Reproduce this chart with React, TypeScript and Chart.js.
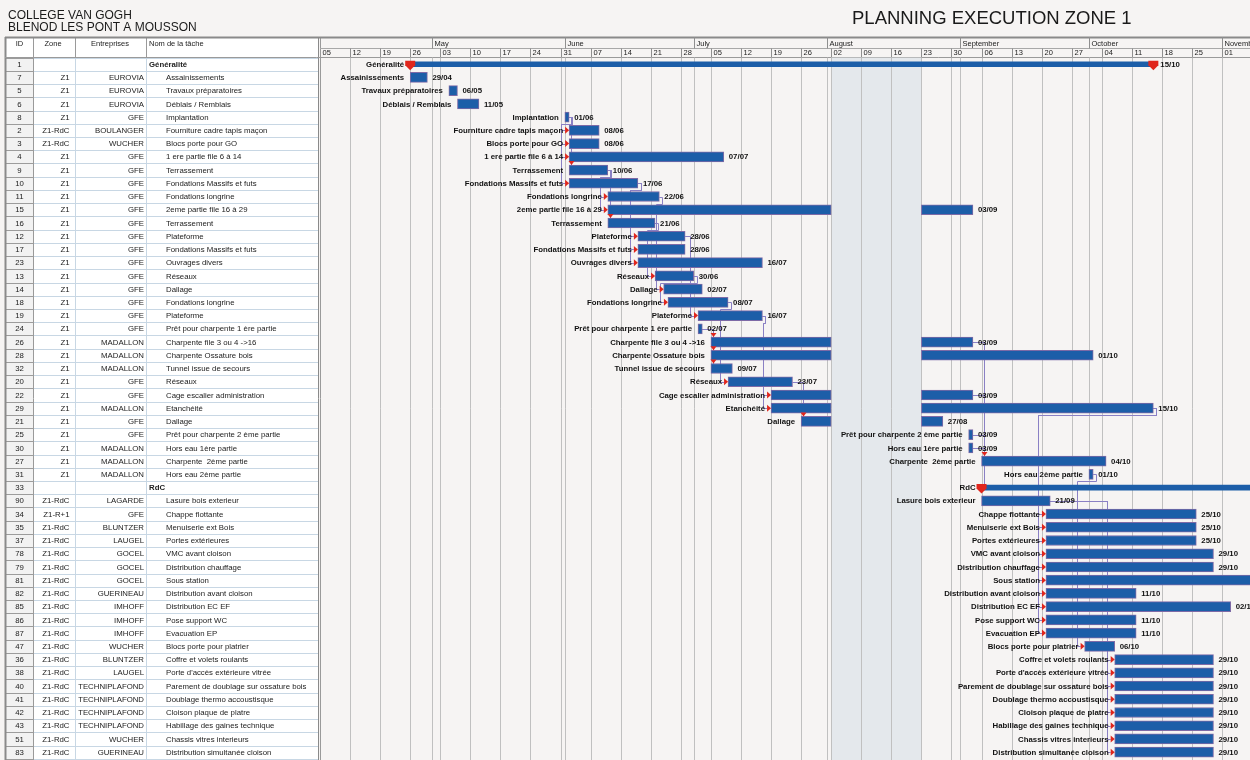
import React, { useEffect, useRef } from 'react';
import { Chart, registerables } from 'chart.js';
Chart.register(...registerables);

// ---------- DATA ----------
const rowIds = ['1','7','5','6','8','2','3','4','9','10','11','15','16','12','17','23','13','14','18','19','24','26','28','32','20','22','29','21','25','30','27','31','33','90','34','35','37','78','79','81','82','85','86','87','47','36','38','40','41','42','43','51','83'];

const zones = ['','Z1','Z1','Z1','Z1','Z1-RdC','Z1-RdC','Z1','Z1','Z1','Z1','Z1','Z1','Z1','Z1','Z1','Z1','Z1','Z1','Z1','Z1','Z1','Z1','Z1','Z1','Z1','Z1','Z1','Z1','Z1','Z1','Z1','','Z1-RdC','Z1-R+1','Z1-RdC','Z1-RdC','Z1-RdC','Z1-RdC','Z1-RdC','Z1-RdC','Z1-RdC','Z1-RdC','Z1-RdC','Z1-RdC','Z1-RdC','Z1-RdC','Z1-RdC','Z1-RdC','Z1-RdC','Z1-RdC','Z1-RdC','Z1-RdC'];

const companies = ['','EUROVIA','EUROVIA','EUROVIA','GFE','BOULANGER','WUCHER','GFE','GFE','GFE','GFE','GFE','GFE','GFE','GFE','GFE','GFE','GFE','GFE','GFE','GFE','MADALLON','MADALLON','MADALLON','GFE','GFE','MADALLON','GFE','GFE','MADALLON','MADALLON','MADALLON','','LAGARDE','GFE','BLUNTZER','LAUGEL','GOCEL','GOCEL','GOCEL','GUERINEAU','IMHOFF','IMHOFF','IMHOFF','WUCHER','BLUNTZER','LAUGEL','TECHNIPLAFOND','TECHNIPLAFOND','TECHNIPLAFOND','TECHNIPLAFOND','WUCHER','GUERINEAU'];

const taskNames = ['Généralité','Assainissements','Travaux préparatoires','Déblais / Remblais','Implantation','Fourniture cadre tapis maçon','Blocs porte pour GO','1 ere partie file 6 à 14','Terrassement','Fondations Massifs et futs','Fondations longrine','2eme partie file 16 à 29','Terrassement','Plateforme','Fondations Massifs et futs','Ouvrages divers','Réseaux','Dallage','Fondations longrine','Plateforme','Prêt pour charpente 1 ère partie','Charpente file 3 ou 4 ->16','Charpente Ossature bois','Tunnel issue de secours','Réseaux','Cage escalier administration','Etanchéité','Dallage','Prêt pour charpente 2 ème partie','Hors eau 1ère partie','Charpente  2ème partie','Hors eau 2ème partie','RdC','Lasure bois exterieur','Chappe flottante','Menuiserie ext Bois','Portes extérieures','VMC avant cloison','Distribution chauffage','Sous station','Distribution avant cloison','Distribution EC EF','Pose support WC','Evacuation EP','Blocs porte pour platrier','Coffre et volets roulants',"Porte d'accès extérieure vitrée",'Parement de doublage sur ossature bois','Doublage thermo accoustisque','Cloison plaque de platre','Habillage des gaines technique','Chassis vitres interieurs','Distribution simultanée cloison'];

const summaryFlags = [true,false,false,false,false,false,false,false,false,false,false,false,false,false,false,false,false,false,false,false,false,false,false,false,false,false,false,false,false,false,false,false,true,false,false,false,false,false,false,false,false,false,false,false,false,false,false,false,false,false,false,false,false];

// days counted from Monday 05 April (day 0); end values are exclusive
const startDays = [21,21,30,32,57,58,58,58,58,58,67,67,67,74,74,74,78,80,81,88,88,91,91,91,95,105,105,112,151,151,154,179,154,154,169,169,169,169,169,169,169,169,169,169,178,185,185,185,185,185,185,185,185];
const endDays =   [194,25,32,37,58,65,65,94,67,74,79,119,78,85,85,103,87,89,95,103,89,119,119,96,110,119,119,119,152,152,183,180,230,170,204,204,204,208,208,230,190,212,190,190,185,208,208,208,208,208,208,208,208];
const resumeDays = [null,null,null,null,null,null,null,null,null,null,null,140,null,null,null,null,null,null,null,null,null,140,140,null,null,140,140,140,null,null,null,null,null,null,null,null,null,null,null,null,null,null,null,null,null,null,null,null,null,null,null,null,null];
const finishDays = [null,null,null,null,null,null,null,null,null,null,null,152,null,null,null,null,null,null,null,null,null,152,180,null,null,152,194,145,null,null,null,null,null,null,null,null,null,null,null,null,null,null,null,null,null,null,null,null,null,null,null,null,null];

const endLabels = ['15/10','29/04','06/05','11/05','01/06','08/06','08/06','07/07','10/06','17/06','22/06','03/09','21/06','28/06','28/06','16/07','30/06','02/07','08/07','16/07','02/07','03/09','01/10','09/07','23/07','03/09','15/10','27/08','03/09','03/09','04/10','01/10','','21/09','25/10','25/10','25/10','29/10','29/10','','11/10','02/11','11/10','11/10','06/10','29/10','29/10','29/10','29/10','29/10','29/10','29/10','29/10'];

// incoming link arrow: 'r' = from left, 'd' = from above
const arrowTypes = ['','','','','','r','r','r','d','r','r','r','d','r','r','r','r','r','r','r','','d','d','d','r','r','r','d','','','d','','','','r','r','r','r','r','r','r','r','r','r','r','r','r','r','r','r','r','r','r'];

const links = [
  ['8','9'],['8','2'],['8','3'],['8','4'],['8','10'],
  ['9','11'],['9','15'],['9','16'],
  ['10','12'],['10','17'],['10','23'],
  ['16','13'],['11','14'],['13','18'],['12','19'],
  ['24','26'],['24','28'],['24','32'],
  ['18','20'],['19','22'],['19','29'],['20','21'],
  ['26','27'],['22','27'],['25','27'],['30','27'],['30','33'],
  ['29','34'],['29','35'],['29','37'],['29','78'],['29','79'],['29','81'],['29','82'],['29','85'],['29','86'],['29','87'],
  ['31','47'],
  ['90','36'],['90','38'],['90','40'],['90','41'],['90','42'],['90','43'],['90','51'],['90','83'],
];

const weekDays = [0,7,14,21,28,35,42,49,56,63,70,77,84,91,98,105,112,119,126,133,140,147,154,161,168,175,182,189,196,203,210];
const weekLabels = ['05','12','19','26','03','10','17','24','31','07','14','21','28','05','12','19','26','02','09','16','23','30','06','13','20','27','04','11','18','25','01'];
const monthStarts = [0,26,57,87,118,149,179,210];
const monthLabels = ['','May','June','July','August','September','October','November'];
const holidayFrom = 119;
const holidayTo = 140;

// ---------- STYLE ----------
const FONT = '"Liberation Sans", Arial, Helvetica, sans-serif';
const BAR = '#1c5ea8';
const BAR_EDGE = '#7d6aa6';
const RED = '#e0261c';
const LINK = '#8a80c4';
const X_MAX = 216.5;

const ganttPlugin = {
  id: 'gantt',
  beforeDraw(chart: any) {
    const { ctx, chartArea: ca, scales } = chart;
    const xs = scales.x, ys = scales.y;
    const W = chart.width, H = chart.height;
    const px = (v: number) => xs.getPixelForValue(v);
    const rowH = (ca.bottom - ca.top) / rowIds.length;
    const yc = (i: number) => ys.getPixelForValue(i);
    ctx.save();
    ctx.fillStyle = '#f6f4f3';
    ctx.fillRect(0, 0, W, H);

    // Titles
    ctx.fillStyle = '#1a1a1a';
    ctx.textBaseline = 'alphabetic';
    ctx.textAlign = 'left';
    ctx.font = `12px ${FONT}`;
    ctx.fillText('COLLEGE VAN GOGH', 8, 18.5);
    ctx.fillText('BLENOD LES PONT A MOUSSON', 8, 31);
    ctx.font = `18.5px ${FONT}`;
    ctx.fillText('PLANNING EXECUTION ZONE 1', 852, 23.5);

    // Table
    const cols = [5, 33, 75, 146.5, 318];
    const headTop = 37;
    ctx.fillStyle = '#ffffff';
    ctx.fillRect(cols[0], headTop, cols[4] - cols[0], H - headTop);
    ctx.fillStyle = '#f2f2f2';
    ctx.fillRect(cols[0], ca.top, cols[1] - cols[0], H - ca.top);

    // row lines
    ctx.lineWidth = 1;
    for (let i = 0; i <= rowIds.length; i++) {
      const y = Math.round(ca.top + i * rowH) + 0.5;
      ctx.strokeStyle = '#c8d7e4';
      ctx.beginPath(); ctx.moveTo(cols[1], y); ctx.lineTo(cols[4], y); ctx.stroke();
      ctx.strokeStyle = '#9c9c9c';
      ctx.beginPath(); ctx.moveTo(cols[0], y); ctx.lineTo(cols[1], y); ctx.stroke();
    }
    // column lines
    const vline = (x: number, y0: number, y1: number, c: string, w = 1) => {
      ctx.strokeStyle = c; ctx.lineWidth = w;
      ctx.beginPath(); ctx.moveTo(x, y0); ctx.lineTo(x, y1); ctx.stroke();
    };
    vline(cols[0] + 0.5, headTop, H, '#8a8a8a', 2);
    vline(cols[1] + 0.5, headTop, H, '#9a9a9a');
    vline(cols[2] + 0.5, ca.top, H, '#c8d7e4');
    vline(cols[3], ca.top, H, '#c8d7e4');
    vline(cols[2] + 0.5, headTop, ca.top, '#9a9a9a');
    vline(cols[3], headTop, ca.top, '#9a9a9a');
    vline(cols[4] + 0.5, headTop, H, '#8a8a8a');
    vline(ca.left + 0.5, headTop, H, '#9a9a9a');

    // header lines
    const hline = (x0: number, x1: number, y: number, c: string, w = 1) => {
      ctx.strokeStyle = c; ctx.lineWidth = w;
      ctx.beginPath(); ctx.moveTo(x0, y); ctx.lineTo(x1, y); ctx.stroke();
    };
    hline(cols[0], W, headTop + 0.5, '#8a8a8a', 2);
    hline(cols[0], W, Math.round(ca.top) - 0.5, '#9a9a9a');
    hline(ca.left, W, 48.5, '#a8a8a8');

    // header texts
    ctx.fillStyle = '#222';
    ctx.font = `7.5px ${FONT}`;
    ctx.textBaseline = 'middle';
    ctx.textAlign = 'center';
    ctx.fillText('ID', 19.5, 43.5);
    ctx.fillText('Zone', 53, 43.5);
    ctx.fillText('Entreprises', 110, 43.5);
    ctx.textAlign = 'left';
    ctx.fillText('Nom de la tâche', 149, 43.5);

    // timeline header: months
    for (let k = 0; k < monthStarts.length; k++) {
      const x = Math.round(px(monthStarts[k])) + 0.5;
      if (k > 0) vline(x, headTop, 48.5, '#8f8f8f');
      ctx.fillStyle = '#222';
      ctx.textAlign = 'left';
      ctx.fillText(monthLabels[k], x + 2, 43.5);
    }
    // weeks
    for (let k = 0; k < weekDays.length; k++) {
      const x = Math.round(px(weekDays[k])) + 0.5;
      if (k > 0) vline(x, 48.5, ca.top, '#8f8f8f');
      ctx.fillStyle = '#222';
      ctx.fillText(weekLabels[k], x + 2, 53.3);
    }

    // holiday shade
    ctx.fillStyle = '#e4e8ec';
    ctx.fillRect(px(holidayFrom), ca.top, px(holidayTo) - px(holidayFrom), ca.bottom - ca.top + 2);

    // grid lines
    for (const d of weekDays.slice(1)) vline(Math.round(px(d)) + 0.5, ca.top, H, '#c0c0c0');
    for (const d of monthStarts.slice(1)) vline(Math.round(px(d)) + 0.5, ca.top, H, '#c0c0c0');

    // table texts
    ctx.font = `7.8px ${FONT}`;
    ctx.fillStyle = '#222';
    for (let i = 0; i < rowIds.length; i++) {
      const y = yc(i) + 0.5;
      ctx.textAlign = 'center';
      ctx.font = `7.8px ${FONT}`;
      ctx.fillText(rowIds[i], 19.5, y);
      ctx.textAlign = 'right';
      ctx.fillText(zones[i], 69.5, y);
      ctx.fillText(companies[i], 144, y);
      ctx.textAlign = 'left';
      if (summaryFlags[i]) {
        ctx.font = `bold 7.8px ${FONT}`;
        ctx.fillText(taskNames[i], 149, y);
      } else {
        ctx.fillText(taskNames[i], 166, y);
      }
    }

    // links (behind bars)
    ctx.strokeStyle = LINK;
    ctx.lineWidth = 1;
    for (const [a, b] of links) {
      const ia = rowIds.indexOf(a), ib = rowIds.indexOf(b);
      const xa = px(finishDays[ia] ?? endDays[ia]);
      const ya = Math.round(yc(ia)) + 0.5;
      const xb = px(startDays[ib]);
      const yb = Math.round(yc(ib)) + 0.5;
      ctx.beginPath();
      if (arrowTypes[ib] === 'd' || summaryFlags[ib]) {
        const xv = Math.round(Math.max(xb + 2, xa + 2)) + 0.5;
        const yt = yb - (summaryFlags[ib] ? 3 : 5);
        ctx.moveTo(xa, ya); ctx.lineTo(xv, ya); ctx.lineTo(xv, yt);
      } else {
        const xl = Math.round(xb - 8) + 0.5;
        if (xl >= xa + 3) {
          ctx.moveTo(xa, ya); ctx.lineTo(xl, ya); ctx.lineTo(xl, yb); ctx.lineTo(xb - 4, yb);
        } else {
          const xr = Math.round(xa + 3) + 0.5;
          const ym = Math.round(ya + (yb > ya ? rowH / 2 : -rowH / 2)) + 0.5;
          ctx.moveTo(xa, ya); ctx.lineTo(xr, ya); ctx.lineTo(xr, ym); ctx.lineTo(xl, ym); ctx.lineTo(xl, yb); ctx.lineTo(xb - 4, yb);
        }
      }
      ctx.stroke();
    }
    ctx.restore();
  },
  afterDatasetsDraw(chart: any) {
    const { ctx, scales } = chart;
    const xs = scales.x, ys = scales.y;
    const px = (v: number) => xs.getPixelForValue(v);
    const yc = (i: number) => ys.getPixelForValue(i);
    ctx.save();
    for (let i = 0; i < rowIds.length; i++) {
      const y = yc(i);
      const xs0 = px(startDays[i]);
      const xe = px(finishDays[i] ?? endDays[i]);
      ctx.fillStyle = RED;
      if (summaryFlags[i]) {
        const marker = (cx: number) => {
          const t = y - 3.5;
          ctx.beginPath();
          ctx.moveTo(cx - 5, t); ctx.lineTo(cx + 5, t); ctx.lineTo(cx + 5, t + 4.5);
          ctx.lineTo(cx, t + 9.5); ctx.lineTo(cx - 5, t + 4.5); ctx.closePath(); ctx.fill();
        };
        marker(xs0);
        if (endLabels[i]) marker(xe);
      } else if (arrowTypes[i] === 'r') {
        ctx.beginPath();
        ctx.moveTo(xs0 - 4, y - 3.5); ctx.lineTo(xs0, y); ctx.lineTo(xs0 - 4, y + 3.5); ctx.closePath(); ctx.fill();
      } else if (arrowTypes[i] === 'd') {
        const cx = Math.round(xs0 + 2) + 0.5, t = y - 5;
        ctx.beginPath();
        ctx.moveTo(cx - 3, t - 4); ctx.lineTo(cx + 3, t - 4); ctx.lineTo(cx, t); ctx.closePath(); ctx.fill();
      }
      // labels
      ctx.fillStyle = '#111';
      ctx.font = `bold 7.8px ${FONT}`;
      ctx.textBaseline = 'middle';
      ctx.textAlign = 'right';
      ctx.fillText(taskNames[i], xs0 - 6, y + 0.5);
      ctx.textAlign = 'left';
      if (endLabels[i]) ctx.fillText(endLabels[i], xe + (summaryFlags[i] ? 7 : 5), y + 0.5);
    }
    ctx.restore();
  },
};

export default function App() {
  const ref = useRef<HTMLCanvasElement | null>(null);
  useEffect(() => {
    const canvas = ref.current;
    if (!canvas) return;
    const chart = new Chart(canvas, {
      type: 'bar',
      data: {
        labels: rowIds,
        datasets: [
          {
            label: 'Tâches',
            data: rowIds.map((_, i) => (summaryFlags[i] ? null : [startDays[i], endDays[i]])) as any,
            backgroundColor: BAR, borderColor: BAR_EDGE, borderWidth: 1, borderSkipped: false,
            barThickness: 10, grouped: false,
          },
          {
            label: 'Reprise',
            data: rowIds.map((_, i) => (resumeDays[i] == null ? null : [resumeDays[i], finishDays[i]])) as any,
            backgroundColor: BAR, borderColor: BAR_EDGE, borderWidth: 1, borderSkipped: false,
            barThickness: 10, grouped: false,
          },
          {
            label: 'Récapitulatif',
            data: rowIds.map((_, i) => (summaryFlags[i] ? [startDays[i], endDays[i]] : null)) as any,
            backgroundColor: BAR, borderWidth: 0, barThickness: 5, grouped: false,
          },
        ],
      },
      options: {
        indexAxis: 'y',
        responsive: false,
        animation: false,
        devicePixelRatio: 1,
        layout: { padding: { left: 320, top: 57.6, right: 0, bottom: 1.2 } },
        scales: {
          x: { type: 'linear', min: 0, max: X_MAX, display: false },
          y: { type: 'category', display: false, offset: true },
        },
        plugins: { legend: { display: false }, tooltip: { enabled: false } },
      } as any,
      plugins: [ganttPlugin],
    });
    return () => chart.destroy();
  }, []);
  return (
    <div style={{ position: 'absolute', left: 0, top: 0, width: 1250, height: 760, overflow: 'hidden' }}>
      <canvas ref={ref} width={1250} height={760} style={{ display: 'block', width: 1250, height: 760 }} />
    </div>
  );
}
